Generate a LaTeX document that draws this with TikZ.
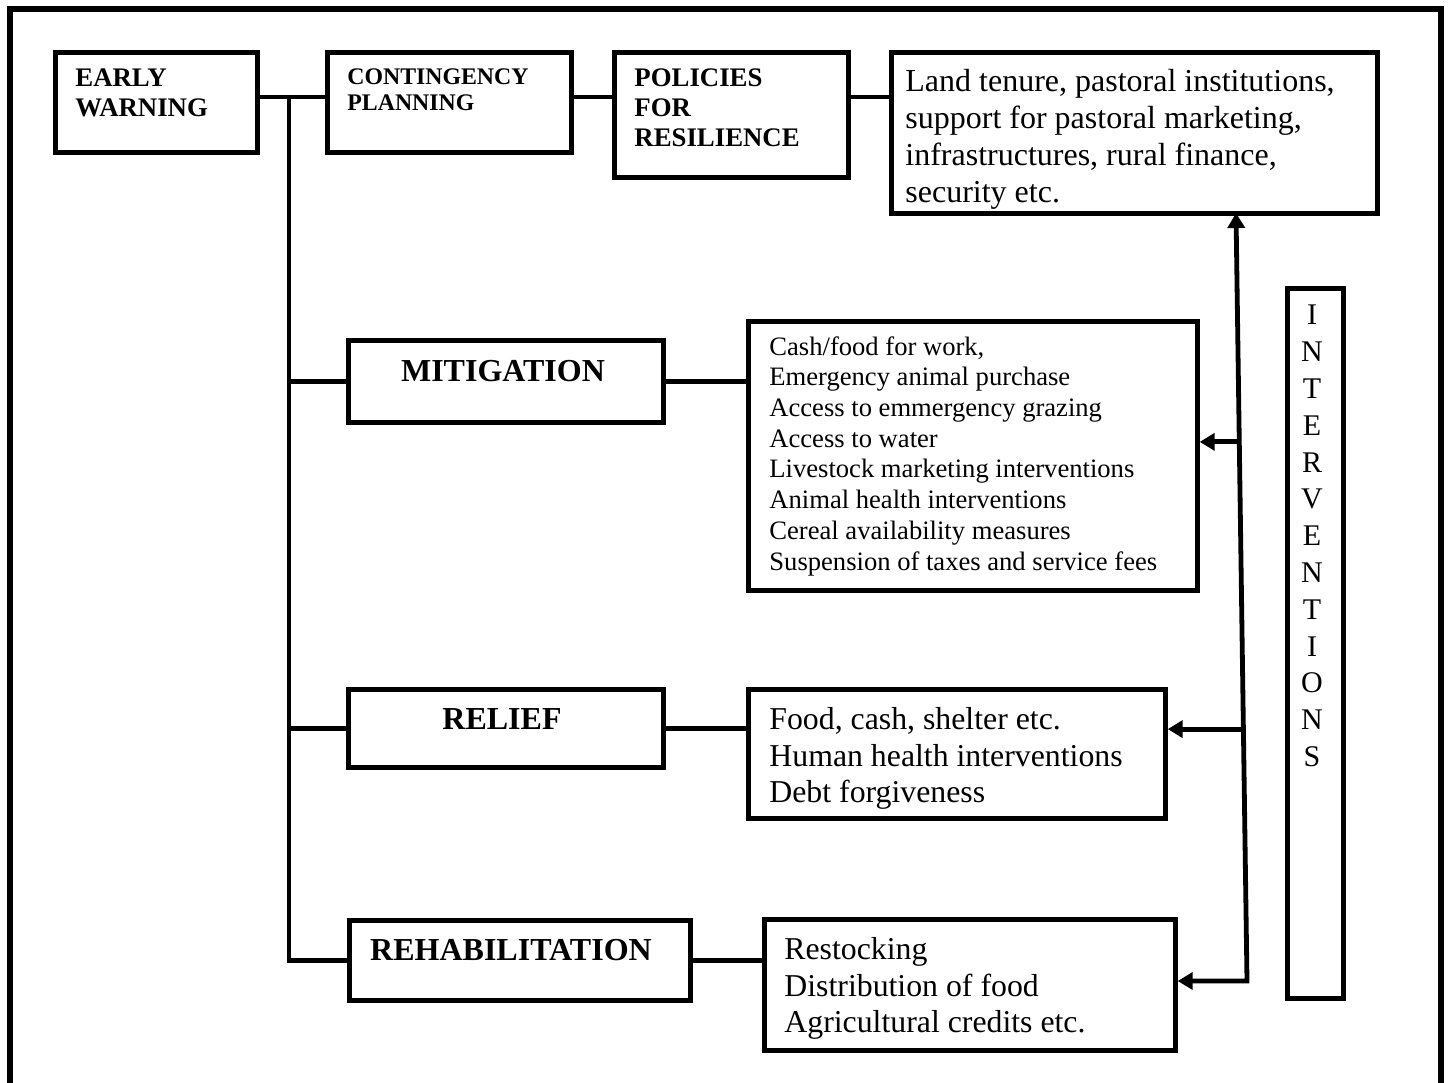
\documentclass[tikz,border=0pt]{standalone}
\usepackage{fontspec}
\setmainfont{Liberation Serif}
\usetikzlibrary{arrows.meta,calc}

\tikzset{
	box/.style={draw, line width=2.6pt, inner sep=0pt, anchor=north west},
	wire/.style={line width=2.4pt},
	txt/.style={inner sep=0pt, anchor=north west, align=left},
	toplbl/.style={txt, font=\bfseries\fontsize{13.4}{15.2}\selectfont},
	stagelbl/.style={inner sep=0pt, font=\bfseries\fontsize{16}{19}\selectfont},
}

\begin{document}
\begin{tikzpicture}[x=.5pt, y=-.5pt, >={Triangle[length=7.5pt,width=8.5pt]}]
	\useasboundingbox (0,0) rectangle (1450,1082);
	\draw[line width=2.8pt] (10,1090) -- (10,9) -- (1441,9) -- (1441,1090);

	% top row
	\node[box, minimum width=101pt, minimum height=50pt] (ew) at (52.5,49.5) {};
	\node[box, minimum width=122pt, minimum height=50pt] (cp) at (324.5,49.5) {};
	\node[box, minimum width=117pt, minimum height=62.5pt] (pol) at (611.5,49.5) {};
	\node[box, minimum width=243pt, minimum height=80.5pt] (land) at (888.5,49.5) {};
	\node[toplbl] (ewt) at (75,68) {EARLY\\WARNING};
	\node[txt, font=\bfseries\fontsize{11.9}{13.3}\selectfont] (cpt) at (347,68) {CONTINGENCY\\PLANNING};
	\node[toplbl] (polt) at (634,68) {POLICIES\\FOR\\RESILIENCE};
	\node[txt, font=\fontsize{16}{18.5}\selectfont] (landt) at (905,69)
		{Land tenure, pastoral institutions,\\support for pastoral marketing,\\infrastructures, rural finance,\\security etc.};

	% stages
	\node[box, minimum width=157.5pt, minimum height=41pt] (mit) at (345.5,337.5) {};
	\node[box, minimum width=157.5pt, minimum height=39pt] (rel) at (345.5,686.5) {};
	\node[box, minimum width=170.5pt, minimum height=40pt] (reh) at (346.5,917.5) {};
	\node[stagelbl] (mitt) at (503,371) {MITIGATION};
	\node[stagelbl] (relt) at (502,719.5) {RELIEF};
	\node[stagelbl] (reht) at (511,950) {REHABILITATION};

	% lists
	\node[box, minimum width=224.5pt, minimum height=134.5pt] (mlist) at (745.5,318.5) {};
	\node[box, minimum width=208.5pt, minimum height=64.5pt] (rlist) at (745.5,686.5) {};
	\node[box, minimum width=205.5pt, minimum height=65.5pt] (hlist) at (761.5,916.5) {};
	\node[txt, font=\fontsize{13.3}{15.35}\selectfont] (mlistt) at (769,336)
		{Cash/food for work,\\Emergency animal purchase\\Access to emmergency grazing\\Access to water\\Livestock marketing interventions\\Animal health interventions\\Cereal availability measures\\Suspension of taxes and service fees};
	\node[txt, font=\fontsize{15.9}{18.3}\selectfont] (rlistt) at (769,707)
		{Food, cash, shelter etc.\\Human health interventions\\Debt forgiveness};
	\node[txt, font=\fontsize{15.9}{18.3}\selectfont] (hlistt) at (784,937)
		{Restocking\\Distribution of food\\Agricultural credits etc.};

	% interventions column
	\node[box, minimum width=28pt, minimum height=355pt] (intv) at (1284.5,285.5) {};
	\foreach \c [count=\i] in {I,N,T,E,R,V,E,N,T,I,O,N,S}
		\node[inner sep=0pt, font=\fontsize{15}{18}\selectfont] (int\i) at (1312,{315+36.8*(\i-1)}) {\c};

	% links
	\coordinate (tr) at (289,97);
	\draw[wire] (ew.east |- tr) -- (cp.west |- tr);
	\draw[wire] (cp.east |- tr) -- (pol.west |- tr);
	\draw[wire] (pol.east |- tr) -- (land.west |- tr);
	\draw[wire] (tr) |- (reh.west);
	\draw[wire] (tr |- mit.west) -- (mit.west);
	\draw[wire] (tr |- rel.west) -- (rel.west);
	\draw[wire] (mit.east) -- (mit.east -| mlist.west);
	\draw[wire] (rel.east) -- (rel.east -| rlist.west);
	\draw[wire] (reh.east) -- (reh.east -| hlist.west);

	% arrows
	\coordinate (ib) at (1247,981);
	\coordinate (it) at (1236,213);
	\coordinate (am) at ($(ib)!.702!(it)$);
	\coordinate (ar) at ($(ib)!.328!(it)$);
	\draw[wire, <->] (hlist.east |- ib) -- (ib) -- (it);
	\draw[wire, ->] (am) -- (am -| mlist.east);
	\draw[wire, ->] (ar) -- (ar -| rlist.east);
\end{tikzpicture}
\end{document}
